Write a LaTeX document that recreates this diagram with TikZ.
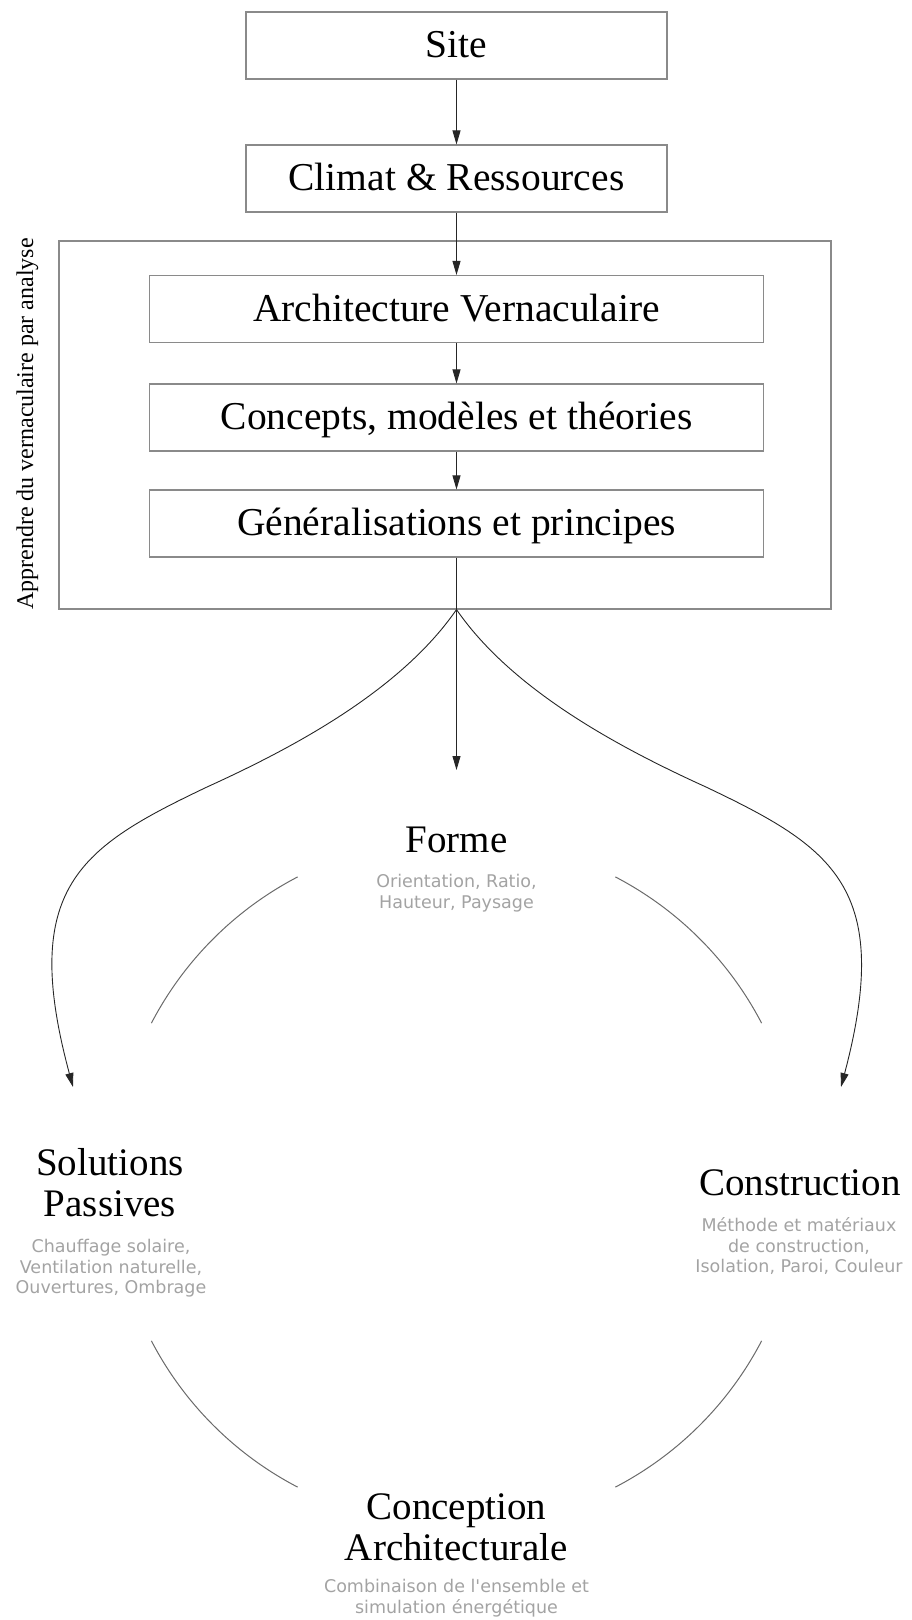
\documentclass[tikz,border=0pt]{standalone}
\usepackage{fontspec}
\setmainfont{Liberation Serif}
\newfontfamily\greyfont{DejaVu Sans}
\usetikzlibrary{arrows.meta}
\definecolor{boxline}{HTML}{8A8A8A}
\definecolor{greytext}{HTML}{A3A3A3}
\definecolor{arcgrey}{HTML}{6A6A6A}
\begin{document}
\begin{tikzpicture}[x=1pt,y=1pt,
  stepbox/.style={draw=boxline, line width=1.1pt, minimum width=421pt, minimum height=67pt, inner sep=0pt, font=\fontsize{39.5}{44}\selectfont, text height=30pt, text depth=6pt},
  widebox/.style={stepbox, minimum width=614pt},
  framebox/.style={draw=boxline, line width=1.1pt, minimum width=772pt, minimum height=368pt, inner sep=0pt},
  conn/.style={draw=black!85, line width=0.9pt},
  arrow/.style={conn, -{Triangle[length=14pt,width=8pt]}},
  arcline/.style={draw=arcgrey, line width=1pt},
  titletxt/.style={anchor=base, inner sep=0pt, font=\fontsize{39}{44}\selectfont},
  detail/.style={anchor=base, inner sep=0pt, text=greytext, font=\greyfont\fontsize{17.5}{21}\selectfont},
  sidelabel/.style={rotate=90, anchor=base, inner sep=0pt, font=\fontsize{24}{28}\selectfont}
]
\useasboundingbox (0,0) rectangle (912,-1620);

% top chain
\node[stepbox] (site) at (456.5,-45.5) {Site};
\node[stepbox] (climat) at (456.5,-178.5) {Climat \& Ressources};
\node[framebox] (frame) at (445,-425) {};
\node[widebox] (arch) at (456.5,-309) {Architecture Vernaculaire};
\node[widebox] (concepts) at (456.5,-417.5) {Concepts, modèles et théories};
\node[widebox] (gen) at (456.5,-523.5) {Généralisations et principes};
\node[sidelabel] (label) at (33,-424) {Apprendre du vernaculaire par analyse};

\draw[arrow] (site) -- (climat);
\draw[arrow] (climat) -- (arch);
\draw[arrow] (arch) -- (concepts);
\draw[arrow] (concepts) -- (gen);
\coordinate (split) at (gen.south |- frame.south);
\draw[conn] (gen) -- (split);

\coordinate (formetip) at (456.5,-770);
\coordinate (soltip) at (73,-1087);
\coordinate (constip) at (841,-1087);
\draw[arrow] (split) -- (formetip);
\draw[arrow] (split) .. controls (401,-690) and (295,-747) .. (207,-787)
                     .. controls (81,-847) and (19,-887) .. (soltip);
\draw[arrow] (split) .. controls (512,-690) and (618,-747) .. (706,-787)
                     .. controls (832,-847) and (894,-887) .. (constip);

% circle of four themes
\coordinate (cc) at (456.5,-1182);
\draw[arcline] ([shift={(117.5:344)}]cc) arc[start angle=117.5, end angle=152.5, radius=344];
\draw[arcline] ([shift={(27.5:344)}]cc) arc[start angle=27.5, end angle=62.5, radius=344];
\draw[arcline] ([shift={(207.5:344)}]cc) arc[start angle=207.5, end angle=242.5, radius=344];
\draw[arcline] ([shift={(297.5:344)}]cc) arc[start angle=297.5, end angle=332.5, radius=344];

% Forme
\node[titletxt] (forme) at (456.5,-852) {Forme};
\node[detail] (formeA) at (456.5,-887) {Orientation, Ratio,};
\node[detail] (formeB) at (456.5,-908) {Hauteur, Paysage};

% Solutions passives
\node[titletxt] (solA) at (110,-1175) {Solutions};
\node[titletxt] (solB) at (110,-1216) {Passives};
\node[detail] (solC) at (111,-1252) {Chauffage solaire,};
\node[detail] (solD) at (111,-1273) {Ventilation naturelle,};
\node[detail] (solE) at (111,-1293) {Ouvertures, Ombrage};

% Construction
\node[titletxt] (consA) at (800,-1195) {Construction};
\node[detail] (consB) at (799,-1231) {Méthode et matériaux};
\node[detail] (consC) at (799,-1252) {de construction,};
\node[detail] (consD) at (799,-1272) {Isolation, Paroi, Couleur};

% Conception architecturale
\node[titletxt] (concA) at (456.5,-1519) {Conception};
\node[titletxt] (concB) at (456.5,-1560) {Architecturale};
\node[detail] (concC) at (456.5,-1592) {Combinaison de l'ensemble et};
\node[detail] (concD) at (456.5,-1613) {simulation énergétique};
\end{tikzpicture}
\end{document}
